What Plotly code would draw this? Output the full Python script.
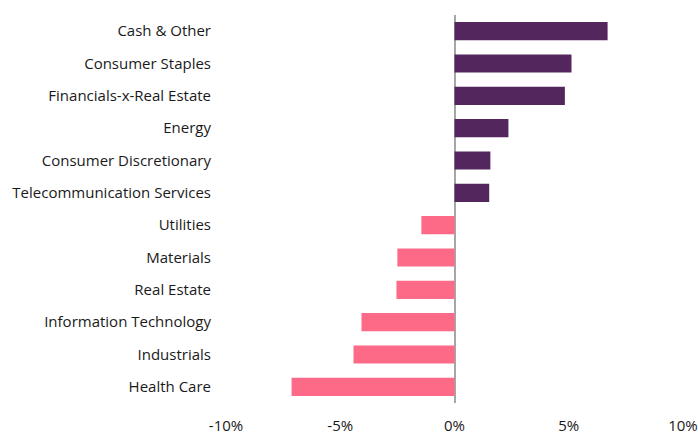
import plotly.graph_objects as go

categories = ["Cash & Other", "Consumer Staples", "Financials-x-Real Estate", "Energy",
              "Consumer Discretionary", "Telecommunication Services", "Utilities",
              "Materials", "Real Estate", "Information Technology", "Industrials", "Health Care"]
values = [6.70, 5.12, 4.83, 2.36, 1.57, 1.52, -1.45, -2.50, -2.54, -4.07, -4.42, -7.13]
tick_vals = [-10, -5, 0, 5, 10]
tick_text = ["-10%", "-5%", "0%", "5%", "10%"]

pos_color = "#54265E"
neg_color = "#FC6A88"
colors = [pos_color if v >= 0 else neg_color for v in values]

fig = go.Figure(go.Bar(
    x=values, y=categories, orientation="h",
    marker=dict(color=colors, line=dict(width=0)),
    width=0.56,
))

fig.update_layout(
    width=698, height=436,
    margin=dict(l=226, r=15, t=15, b=33),
    paper_bgcolor="white", plot_bgcolor="white",
    font=dict(family="Open Sans, Noto Sans, sans-serif", size=15, color="#1a1a1a"),
    showlegend=False,
)
fig.update_xaxes(
    range=[-10, 10], tickvals=tick_vals, ticktext=tick_text,
    showgrid=False, zeroline=True, zerolinecolor="#A6A6A6", zerolinewidth=2,
    showline=False, ticks="", ticklabelstandoff=12, automargin=False,
)
fig.update_yaxes(
    autorange="reversed", showgrid=False, showline=False, zeroline=False,
    ticks="", ticklabelstandoff=14, automargin=False,
)

fig.write_html(
    "out.html",
    config={"displayModeBar": False},
    post_script="document.body.style.margin='0';document.body.style.overflow='hidden';",
)
